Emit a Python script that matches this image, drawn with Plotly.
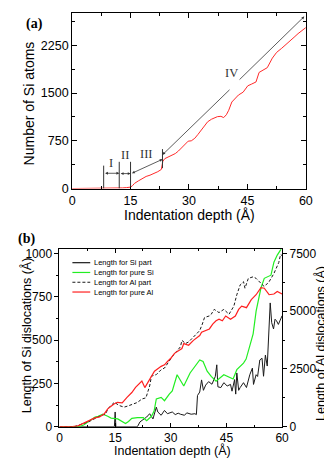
import plotly.graph_objects as go

W, H = 332, 458

# ---------------- Panel (a) data ----------------
depth_a = [0, 4, 8, 10, 11, 12, 13, 14, 15, 15.5, 16, 17, 18, 19, 20, 21, 22, 22.9, 23.3, 23.8, 24.5,
           25.6, 26.5, 27.3, 28.5, 29.3, 29.8, 30.6, 31.5, 32.3, 33.1, 34, 34.8, 35.8, 37.3, 38.2,
           38.9, 39.6, 40.2, 41, 42, 42.7, 43.9, 45.1, 46, 47.2, 48, 49, 50.1, 51.4, 52.5, 53.8,
           55, 56.3, 57.2, 58, 59, 60]
si_atoms = [0, 0, 0, 0, 3, 6, 10, 15, 22, 45, 80, 120, 160, 190, 210, 235, 265, 300, 430, 470, 490,
            520, 550, 590, 660, 720, 745, 750, 790, 850, 920, 990, 1050, 1090, 1130, 1135,
            1115, 1160, 1230, 1360, 1420, 1470, 1515, 1615, 1640, 1675, 1825, 1860, 1900, 2050, 2140, 2205,
            2265, 2330, 2390, 2435, 2480, 2530]

stage_bars_x = [8.1, 12.1, 15.0, 23.2]
stage_bars_y0 = [0, 0, 25, 320]
stage_bars_y1 = [360, 420, 420, 620]
stage_labels = ["I", "II", "III", "IV"]
stage_label_x = [10.0, 13.5, 19.2, 41.0]
stage_label_y = [400, 530, 540, 1820]

# ---------------- Panel (b) data ----------------
x_si_part = [0, 14.8, 15, 15.2, 21, 21.7, 23.5, 24.3, 25.2, 26.1, 26.5, 27.4, 28.3, 29.1, 30.4, 31.2, 32,
             32.6, 33.7, 34.3, 35.5, 36.5, 36.9, 37.2, 37.8, 38.3, 38.8, 39.4, 40.2, 41.1, 42, 42.4, 42.7,
             43.5, 44.3, 45.2, 46.1, 46.5, 47.2, 47.5, 47.8, 48.3, 48.7, 49.6, 50.4, 51.3, 52, 52.3, 53,
             53.4, 54, 54.6, 55, 55.5, 56, 56.5, 56.8, 57.2, 57.7, 58.1, 58.5, 59, 59.4, 59.8, 60]
len_si_part = [0, 0, 85, 0, 0, 28, 56, 75, 45, 113, 85, 66, 94, 75, 85, 70, 78,
               72, 66, 80, 72, 75, 70, 180, 200, 270, 210, 240, 260, 245, 290, 357, 230,
               226, 254, 235, 244, 205, 272, 188, 310, 210, 226, 254, 226, 300, 338, 244, 300,
               290, 385, 395, 291, 413, 350, 560, 714, 600, 564, 620, 611, 590, 611, 630, 640]

x_pure_si = [0, 5.2, 6.5, 7.8, 9.6, 10.4, 11.7, 13, 13.9, 15.7, 17, 17.8, 18.6, 19.5, 21, 22.6, 23.5,
             24.8, 25.5, 26.1, 27.4, 28.3, 29.6, 30.4, 31.7, 33.5, 35.2, 36.1, 37.8, 38.7, 39.8, 40.9,
             42.2, 44.3, 46.8, 47.8, 49.6, 50.3, 51.3, 52.2, 53, 54.3, 55.2, 56.1, 57, 57.8, 58.7, 59.6, 60]
len_pure_si = [0, 0, 10, 28, 56, 60, 72, 60, 50, 45, 30, 18, 30, 48, 52, 52, 35,
               60, 90, 160, 169, 150, 188, 207, 300, 235, 310, 338, 385, 376, 320, 290,
               263, 300, 275, 329, 367, 390, 470, 536, 667, 800, 856, 865, 874, 949, 990, 1020, 1040]

x_al_part = [0, 4, 5.2, 7.8, 10.4, 12.5, 13, 14.8, 16.1, 17.4, 18.5, 20, 21, 22.2, 23.3, 24.3, 24.8,
             26.1, 27.4, 28.3, 29.1, 30.4, 31.5, 32.6, 33, 34, 34.8, 36.1, 37.8, 38.5, 39.1, 40.4,
             40.9, 41.7, 43, 44.3, 45.7, 47, 47.8, 48.7, 49.6, 50, 50.9, 52.2, 53, 54.3, 55.2, 56.5,
             57.8, 59.1, 59.6, 60]
len_al_part = [0, 0, 70, 210, 423, 560, 775, 1057, 918, 846, 900, 986, 1050, 1198, 1250, 1763, 2187,
               2255, 2466, 2538, 2750, 3033, 3250, 3456, 3735, 3600, 3667, 3879, 4158, 4440, 4725, 4793,
               4865, 5076, 4936, 5076, 4865, 5216, 5710, 6134, 6273, 5993, 6417, 6485, 6417, 6205, 6062, 6273,
               6628, 7100, 7450, 7400]

x_pure_al = [0, 3, 5, 6, 7, 8.2, 9.5, 10.8, 12.1, 13, 14, 14.7, 15.6, 16.9, 18.2, 19.5, 20.5, 21.3, 22.2,
             23, 24.3, 25.6, 27.4, 28.3, 29.1, 30, 31, 32.2, 33, 33.5, 34.8, 36.1, 37.8, 38.3, 39.6, 40.4,
             41.3, 42.2, 43, 43.9, 44.8, 46.1, 47.4, 48.3, 49.1, 50.4, 51.7, 53, 54.3, 55.2, 56.5, 57.8,
             58.7, 60]
len_pure_al = [0, 0, 40, 120, 200, 283, 380, 423, 563, 775, 900, 986, 1057, 1028, 1269, 1480, 1700, 1832, 1975,
               1692, 2043, 2398, 2610, 2678, 2821, 2961, 3173, 3312, 3384, 3595, 3524, 3735, 3947, 4090, 4158, 4230,
               4440, 4580, 4650, 4580, 4790, 4650, 4790, 5076, 5216, 5150, 5500, 5710, 6020, 5993, 5710, 5740,
               5850, 5740]

series_names = ["Length for Si part", "Length for pure Si", "Length for Al part", "Length for pure Al"]
series_colors = ["#1a1a1a", "#22ee22", "#1a1a1a", "#ff2020"]
series_dash = ["solid", "solid", "3px,2px", "solid"]

x_ticks = [0, 15, 30, 45, 60]

FONT = "Liberation Sans, Arial, sans-serif"
SERIF = "Liberation Serif, Times New Roman, serif"


def px(xp):
    return xp / W


def py(yp):
    return 1 - yp / H


fig = go.Figure()

# Panel (a)
fig.add_trace(go.Scatter(x=depth_a, y=si_atoms, mode="lines", line=dict(color="#ff2a2a", width=1),
                         xaxis="x", yaxis="y", showlegend=False))

# Panel (b)
fig.add_trace(go.Scatter(x=x_si_part, y=len_si_part, mode="lines", name=series_names[0],
                         line=dict(color=series_colors[0], width=1, dash=series_dash[0]),
                         xaxis="x2", yaxis="y2", showlegend=False))
fig.add_trace(go.Scatter(x=x_pure_si, y=len_pure_si, mode="lines", name=series_names[1],
                         line=dict(color=series_colors[1], width=1.2, dash=series_dash[1]),
                         xaxis="x2", yaxis="y2", showlegend=False))
fig.add_trace(go.Scatter(x=x_al_part, y=len_al_part, mode="lines", name=series_names[2],
                         line=dict(color=series_colors[2], width=1, dash=series_dash[2]),
                         xaxis="x2", yaxis="y3", showlegend=False))
fig.add_trace(go.Scatter(x=x_pure_al, y=len_pure_al, mode="lines", name=series_names[3],
                         line=dict(color=series_colors[3], width=1.2, dash=series_dash[3]),
                         xaxis="x2", yaxis="y3", showlegend=False))

tickfont_a = dict(family=FONT, size=12.5, color="black")
tickfont_b = dict(family=FONT, size=12, color="black")
axcommon = dict(showline=True, linecolor="black", linewidth=1, showgrid=False, zeroline=False,
                tickcolor="black")

fig.update_layout(
    width=W, height=H, margin=dict(l=0, r=0, t=0, b=0),
    paper_bgcolor="white", plot_bgcolor="white",
    showlegend=False,
    xaxis=dict(domain=[px(63), px(304)], anchor="y", range=[0, 60], tickvals=x_ticks,
               ticks="inside", ticklen=5, mirror="ticks", tickfont=tickfont_a,
               minor=dict(dtick=7.5, tick0=0, ticks="inside", ticklen=3, tickcolor="black"), **axcommon),
    yaxis=dict(domain=[py(181.5), py(2)], anchor="x", range=[0, 2760], dtick=750, tick0=0,
               ticks="inside", ticklen=5, mirror="ticks", tickfont=tickfont_a,
               minor=dict(dtick=375, tick0=0, ticks="inside", ticklen=3, tickcolor="black"), **axcommon),
    xaxis2=dict(domain=[px(50), px(279.5)], anchor="y2", range=[0, 60], tickvals=x_ticks,
                ticks="inside", ticklen=4, mirror="ticks", tickfont=tickfont_b,
                minor=dict(dtick=7.5, tick0=0, ticks="inside", ticklen=2, tickcolor="black"), **axcommon),
    yaxis2=dict(domain=[py(425), py(243.5)], anchor="x2", range=[0, 1024], dtick=250, tick0=0,
                ticks="outside", ticklen=4, mirror=False, tickfont=tickfont_b,
                minor=dict(dtick=125, tick0=0, ticks="outside", ticklen=2, tickcolor="black"), **axcommon),
    yaxis3=dict(overlaying="y2", side="right", anchor="x2", range=[0, 7680], dtick=2500, tick0=0,
                ticks="outside", ticklen=4, tickfont=tickfont_b,
                minor=dict(dtick=1250, tick0=0, ticks="outside", ticklen=2, tickcolor="black"), **axcommon),
)

ann = []
shapes = []

# Axis titles
title_a = dict(family=FONT, size=14, color="black")
title_b = dict(family=FONT, size=12.5, color="black")
ann.append(dict(text="Number of Si atoms", x=px(19), y=py(94), xref="paper", yref="paper",
                textangle=-90, showarrow=False, font=title_a, xanchor="center", yanchor="middle"))
ann.append(dict(text="Indentation depth (Å)", x=px(184), y=py(209), xref="paper", yref="paper",
                showarrow=False, font=title_a, xanchor="center", yanchor="middle"))
ann.append(dict(text="Indentation depth (Å)", x=px(166), y=0, xref="paper", yref="paper",
                showarrow=False, font=title_b, xanchor="center", yanchor="bottom", borderpad=0))
ann.append(dict(text="Length of Si dislocations (Å)", x=px(16), y=py(332), xref="paper", yref="paper",
                textangle=-90, showarrow=False, font=title_b, xanchor="center", yanchor="middle"))
ann.append(dict(text="Length of Al dislocations (Å)", x=px(319), y=py(340), xref="paper", yref="paper",
                textangle=-90, showarrow=False, font=title_b, xanchor="center", yanchor="middle"))

# Panel labels
ann.append(dict(text="<b>(a)</b>", x=px(24), y=py(13), xref="paper", yref="paper", showarrow=False,
                font=dict(family=SERIF, size=14, color="black"), xanchor="center", yanchor="middle"))
ann.append(dict(text="<b>(b)</b>", x=px(16), y=py(233), xref="paper", yref="paper", showarrow=False,
                font=dict(family=SERIF, size=14, color="black"), xanchor="center", yanchor="middle"))

# Stage bars (panel a)
for bx, b0, b1 in zip(stage_bars_x, stage_bars_y0, stage_bars_y1):
    shapes.append(dict(type="line", xref="x", yref="y", x0=bx, x1=bx, y0=b0, y1=b1,
                       line=dict(color="#333333", width=1)))

# Stage labels
for lab, lx, ly in zip(stage_labels, stage_label_x, stage_label_y):
    ann.append(dict(text=lab, x=lx, y=ly, xref="x", yref="y", showarrow=False,
                    font=dict(family=SERIF, size=12.5, color="#333333"),
                    xanchor="center", yanchor="middle"))

arrow_style = dict(showarrow=True, arrowhead=2, arrowsize=0.7, arrowwidth=0.8, arrowcolor="#333333",
                   xref="x", yref="y", axref="x", ayref="y", text="")
# I
ann.append(dict(x=stage_bars_x[1], y=240, ax=stage_bars_x[0], ay=240, arrowside="end+start", **arrow_style))
# II
ann.append(dict(x=stage_bars_x[2], y=235, ax=stage_bars_x[1], ay=235, arrowside="end+start", **arrow_style))
# III
ann.append(dict(x=stage_bars_x[3], y=460, ax=stage_bars_x[2], ay=230, arrowside="end+start", **arrow_style))
# IV (two segments with gap for label)
ann.append(dict(x=stage_bars_x[3], y=530, ax=40.8, ay=1575, arrowside="end", **arrow_style))
ann.append(dict(x=59.6, y=2705, ax=42.6, ay=1690, arrowside="end", **arrow_style))

# Manual legend (panel b)
leg_y = [257.3, 267.3, 277.3, 287.3]
for name, col, dsh, ly in zip(series_names, series_colors, series_dash, leg_y):
    shapes.append(dict(type="line", xref="paper", yref="paper", x0=px(63.3), x1=px(81.7),
                       y0=py(ly), y1=py(ly), line=dict(color=col, width=1.2, dash=dsh)))
    ann.append(dict(text=name, x=px(83.3), y=py(ly), xref="paper", yref="paper", showarrow=False,
                    font=dict(family=FONT, size=7.5, color="black"), xanchor="left", yanchor="middle"))

fig.update_layout(annotations=ann, shapes=shapes)

fig.write_html("out.html")
